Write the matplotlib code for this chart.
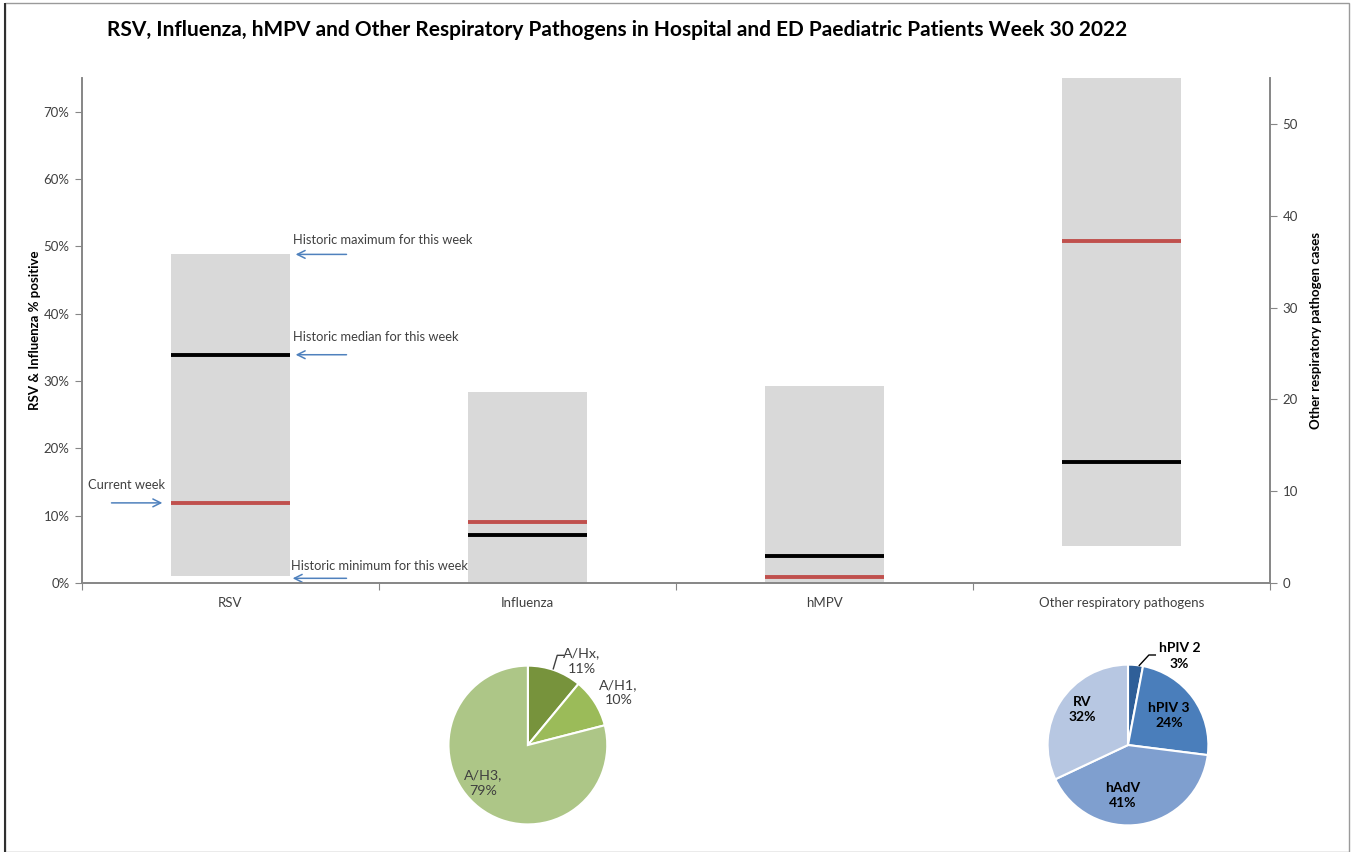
import numpy as np
import matplotlib.pyplot as plt
from matplotlib.patches import Rectangle

plt.rcParams['font.family'] = ['Lato', 'DejaVu Sans']

categories = ["RSV", "Influenza", "hMPV", "Other respiratory pathogens"]
# left axis (% positive) for the first three pathogens
pctMin = [0.01, 0.0, 0.0]
pctMax = [0.488, 0.283, 0.292]
pctMedian = [0.339, 0.071, 0.040]
pctCurrent = [0.119, 0.091, 0.009]
# right axis (cases) for other respiratory pathogens
otherMin = 4.0
otherMax = 56.0
otherMedian = 13.2
otherCurrent = 37.2

fluLabels = ["A/Hx", "A/H1", "A/H3"]
fluShares = [11, 10, 79]
otherLabels = ["hPIV 2", "hPIV 3", "hAdV", "RV"]
otherShares = [3, 24, 41, 32]

gray = "#D9D9D9"
red = "#C0504D"
blue = "#4F81BD"
spine = "#868686"
txt = "#404040"

fig = plt.figure(figsize=(13.53, 8.52), dpi=100)
fig.patches.append(Rectangle((0.004, 0.0), 0.993, 0.997, transform=fig.transFigure,
                             fill=False, edgecolor="#9a9a9a", lw=1))
fig.patches.append(Rectangle((0.004, 0.0), 0.0, 0.997, transform=fig.transFigure,
                             fill=False, edgecolor="#303030", lw=1.5))

ax = fig.add_axes([0.0606, 0.3157, 0.878, 0.5928])
ax2 = ax.twinx()
width = 0.40
xs = np.arange(len(categories)) + 0.5

for i in range(3):
    ax.bar(xs[i], pctMax[i] - pctMin[i], bottom=pctMin[i], width=width, color=gray, zorder=1)
    ax.hlines(pctMedian[i], xs[i] - width / 2, xs[i] + width / 2, color="black", lw=2.8, zorder=3)
    ax.hlines(pctCurrent[i], xs[i] - width / 2, xs[i] + width / 2, color=red, lw=2.8, zorder=3)

ax2.bar(xs[3], otherMax - otherMin, bottom=otherMin, width=width, color=gray, zorder=1)
ax2.hlines(otherMedian, xs[3] - width / 2, xs[3] + width / 2, color="black", lw=2.8, zorder=3)
ax2.hlines(otherCurrent, xs[3] - width / 2, xs[3] + width / 2, color=red, lw=2.8, zorder=3)

ax.set_xlim(0, 4)
ax.set_ylim(0, 0.75)
ax2.set_ylim(0, 55)
ax.set_yticks(np.arange(0, 0.71, 0.1))
ax.set_yticklabels([f"{int(round(v * 100))}%" for v in np.arange(0, 0.71, 0.1)])
ax2.set_yticks(np.arange(0, 51, 10))
ax.set_xticks(np.arange(0, 5))
ax.set_xticklabels([])
ax.set_xticks(xs, minor=True)
ax.set_xticklabels(categories, minor=True)
ax.tick_params(axis="x", which="minor", length=0, pad=10, labelsize=9.5, labelcolor=txt)
ax.tick_params(axis="x", which="major", length=5, color=spine)
ax.tick_params(axis="y", length=5, color=spine, labelsize=9.5, labelcolor=txt, pad=4)
ax2.tick_params(axis="y", length=5, color=spine, labelsize=9.5, labelcolor=txt, pad=4)

for a in (ax, ax2):
    a.spines["top"].set_visible(False)
    for s in ("left", "right", "bottom"):
        a.spines[s].set_color(spine)
        a.spines[s].set_linewidth(1.2)

ax.set_ylabel("RSV & Influenza % positive", fontsize=9.5, fontweight="bold", labelpad=2)
ax2.set_ylabel("Other respiratory pathogen cases", fontsize=9.5, fontweight="bold", labelpad=9)

fig.text(0.456, 0.965, "RSV, Influenza, hMPV and Other Respiratory Pathogens in Hospital and ED Paediatric Patients Week 30 2022",
         ha="center", va="center", fontsize=15, fontweight="bold", color="black")

# annotations on the RSV bar
arrow = dict(arrowstyle="->", color=blue, lw=1.1, mutation_scale=14)
xr = xs[0] + width / 2
ax.annotate("", xy=(xr + 0.01, pctMax[0]), xytext=(xr + 0.2, pctMax[0]), arrowprops=arrow)
ax.annotate("", xy=(xr + 0.01, pctMedian[0]), xytext=(xr + 0.2, pctMedian[0]), arrowprops=arrow)
ax.annotate("", xy=(xr, 0.007), xytext=(xr + 0.2, 0.007), arrowprops=arrow)
ax.annotate("", xy=(xs[0] - width / 2 - 0.02, pctCurrent[0]), xytext=(0.09, pctCurrent[0]), arrowprops=arrow)
ax.text(xr + 0.012, pctMax[0] + 0.021, "Historic maximum for this week", fontsize=9.3, color=txt, va="center")
ax.text(xr + 0.012, pctMedian[0] + 0.027, "Historic median for this week", fontsize=9.3, color=txt, va="center")
ax.text(xr + 0.005, 0.026, "Historic minimum for this week", fontsize=9.3, color=txt, va="center")
ax.text(0.02, pctCurrent[0] + 0.026, "Current week", fontsize=9.3, color=txt, va="center")

# influenza subtype pie
pax1 = fig.add_axes([0.3902 - 0.0599, 0.1256 - 0.0951, 0.1197, 0.1901])
fluColors = ["#77933C", "#9BBB59", "#ADC687"]
pax1.pie(fluShares, colors=fluColors, startangle=90, counterclock=False,
         wedgeprops=dict(edgecolor="white", linewidth=1.5))
pax1.set_xlim(-1.02, 1.02)
pax1.set_ylim(-1.02, 1.02)
fluPos = [(0.68, 1.06), (1.14, 0.66), (-0.56, -0.48)]
for lab, share, pos in zip(fluLabels, fluShares, fluPos):
    pax1.text(pos[0], pos[1], f"{lab},\n{share}%", ha="center", va="center",
              fontsize=10.3, color=txt, linespacing=1.35, clip_on=False)
pax1.plot([0.32, 0.37, 0.45], [0.96, 1.13, 1.13], color=txt, lw=1, clip_on=False)

# other respiratory pathogen pie
pax2 = fig.add_axes([0.8337 - 0.0606, 0.1256 - 0.0963, 0.1212, 0.1925])
otherColors = ["#2F5F98", "#4A7EBB", "#7F9FCF", "#B7C7E2"]
pax2.pie(otherShares, colors=otherColors, startangle=90, counterclock=False,
         wedgeprops=dict(edgecolor="white", linewidth=1.5))
pax2.set_xlim(-1.02, 1.02)
pax2.set_ylim(-1.02, 1.02)
otherPos = [(0.64, 1.11), (0.51, 0.37), (-0.07, -0.63), (-0.57, 0.44)]
for lab, share, pos in zip(otherLabels, otherShares, otherPos):
    pax2.text(pos[0], pos[1], f"{lab}\n{share}%", ha="center", va="center",
              fontsize=10, fontweight="bold", color="black", linespacing=1.35, clip_on=False)
pax2.plot([0.14, 0.26, 0.34], [0.99, 1.12, 1.12], color="black", lw=1, clip_on=False)

fig.savefig("out.png", dpi=100)
